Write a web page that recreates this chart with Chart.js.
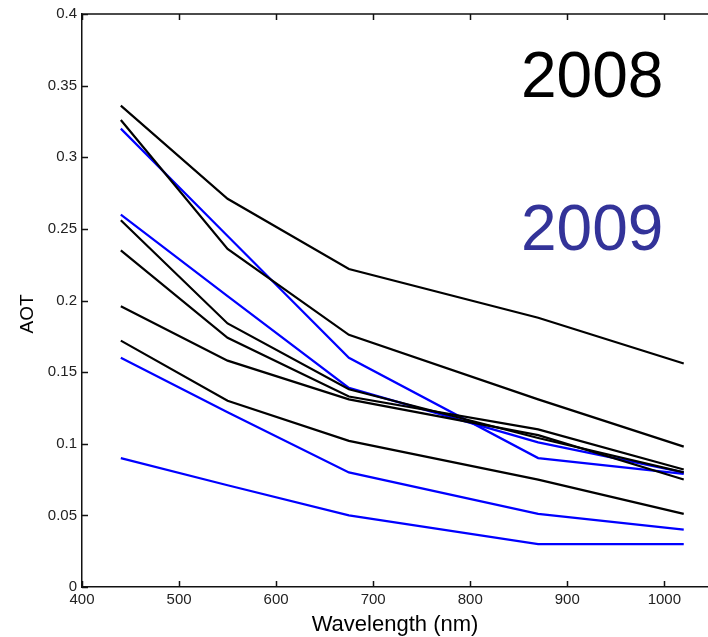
<!DOCTYPE html>
<html>
<head>
<meta charset="utf-8">
<script src="https://cdn.jsdelivr.net/npm/chart.js@4.4.0/dist/chart.umd.min.js"></script>
<style>
html,body{margin:0;padding:0;background:#fff;overflow:hidden;}
#wrap{width:708px;height:637px;position:relative;}
</style>
</head>
<body>
<div id="wrap"><canvas id="c" width="708" height="637"></canvas></div>
<script>
// ---- data ----
const wavelengths = [440, 550, 675, 870, 1020];
const xTicks = [400, 500, 600, 700, 800, 900, 1000];
const yTicks = [0, 0.05, 0.1, 0.15, 0.2, 0.25, 0.3, 0.35, 0.4];
const xTickLabels = ['400', '500', '600', '700', '800', '900', '1000'];
const yTickLabels = ['0', '0.05', '0.1', '0.15', '0.2', '0.25', '0.3', '0.35', '0.4'];

// 2008 (black)
const aot2008_a = [0.336, 0.271, 0.222, 0.188, 0.156];
const aot2008_b = [0.326, 0.236, 0.176, 0.131, 0.098];
const aot2008_c = [0.256, 0.184, 0.138, 0.104, 0.080];
const aot2008_d = [0.235, 0.174, 0.133, 0.110, 0.082];
const aot2008_e = [0.196, 0.158, 0.131, 0.106, 0.075];
const aot2008_f = [0.172, 0.130, 0.102, 0.075, 0.051];
// 2009 (blue)
const aot2009_a = [0.320, 0.245, 0.160, 0.090, 0.079];
const aot2009_b = [0.260, 0.203, 0.139, 0.101, 0.080];
const aot2009_c = [0.160, 0.122, 0.080, 0.051, 0.040];
const aot2009_d = [0.090, 0.071, 0.050, 0.030, 0.030];

const label2008 = '2008';
const label2009 = '2009';
const xTitle = 'Wavelength (nm)';
const yTitle = 'AOT';

const series2008 = [aot2008_a, aot2008_b, aot2008_c, aot2008_d, aot2008_e, aot2008_f];
const series2009 = [aot2009_a, aot2009_b, aot2009_c, aot2009_d];

function mk(vals, color, name) {
  return {
    label: name,
    data: vals.map((v, i) => ({x: wavelengths[i], y: v})),
    borderColor: color,
    backgroundColor: color,
    borderWidth: 2.2,
    pointRadius: 0,
    tension: 0,
    fill: false
  };
}
const datasets = [];
series2008.forEach((s, i) => datasets.push(mk(s, '#000000', label2008 + '_' + i)));
series2009.forEach((s, i) => datasets.push(mk(s, '#0000ff', label2009 + '_' + i)));

const FAM = '"Liberation Sans", Arial, sans-serif';
const tickFont = {family: FAM, size: 15};

const boxPlugin = {
  id: 'boxTicks',
  afterDraw(chart) {
    const {ctx, chartArea: a, scales: {x, y}} = chart;
    ctx.save();
    ctx.strokeStyle = '#111';
    ctx.lineWidth = 1.5;
    ctx.beginPath();
    ctx.moveTo(a.left, a.top);
    ctx.lineTo(a.right, a.top);
    const tl = 6;
    xTicks.forEach(v => {
      const px = Math.round(x.getPixelForValue(v)) + 0.5;
      ctx.moveTo(px, a.bottom); ctx.lineTo(px, a.bottom - tl);
      ctx.moveTo(px, a.top); ctx.lineTo(px, a.top + tl);
    });
    yTicks.forEach(v => {
      const py = Math.round(y.getPixelForValue(v)) + 0.5;
      ctx.moveTo(a.left, py); ctx.lineTo(a.left + tl, py);
    });
    ctx.stroke();
    // y axis title
    ctx.save();
    ctx.translate(28, 314);
    ctx.rotate(-Math.PI / 2);
    ctx.font = '19px ' + FAM;
    ctx.fillStyle = '#000';
    ctx.textAlign = 'center';
    ctx.textBaseline = 'middle';
    ctx.fillText(yTitle, 0, 0);
    ctx.restore();
    // year annotations
    ctx.font = '64px ' + FAM;
    ctx.textAlign = 'left';
    ctx.textBaseline = 'alphabetic';
    ctx.fillStyle = '#000000';
    ctx.fillText(label2008, 521, 97);
    ctx.fillStyle = '#333399';
    ctx.fillText(label2009, 521, 250);
    ctx.restore();
  }
};

new Chart(document.getElementById('c'), {
  type: 'line',
  data: {datasets},
  plugins: [boxPlugin],
  options: {
    responsive: false,
    animation: false,
    devicePixelRatio: 1,
    layout: {padding: {left: 0, right: 0, top: 12, bottom: 0}},
    plugins: {legend: {display: false}, tooltip: {enabled: false}},
    scales: {
      x: {
        type: 'linear',
        min: 400, max: 1045,
        afterBuildTicks(s) { s.ticks = xTicks.map(v => ({value: v})); },
        afterFit(s) { s.height = 50; },
        grid: {display: false, drawTicks: false},
        border: {display: true, color: '#111', width: 1.5},
        ticks: {
          font: tickFont, color: '#222', padding: 4, maxRotation: 0, autoSkip: false,
          callback: (v) => xTickLabels[xTicks.indexOf(v)]
        },
        title: {
          display: true, text: xTitle, color: '#000',
          font: {family: FAM, size: 22},
          padding: {top: 0, bottom: -1}
        }
      },
      y: {
        type: 'linear',
        min: 0, max: 0.4,
        afterBuildTicks(s) { s.ticks = yTicks.map(v => ({value: v})); },
        afterFit(s) { s.width = 82; },
        grid: {display: false, drawTicks: false},
        border: {display: true, color: '#111', width: 1.5},
        ticks: {
          font: tickFont, color: '#222', padding: 5, autoSkip: false,
          callback: (v) => yTickLabels[yTicks.findIndex(t => Math.abs(t - v) < 1e-9)]
        },
        title: {display: false}
      }
    }
  }
});
</script>
</body>
</html>
